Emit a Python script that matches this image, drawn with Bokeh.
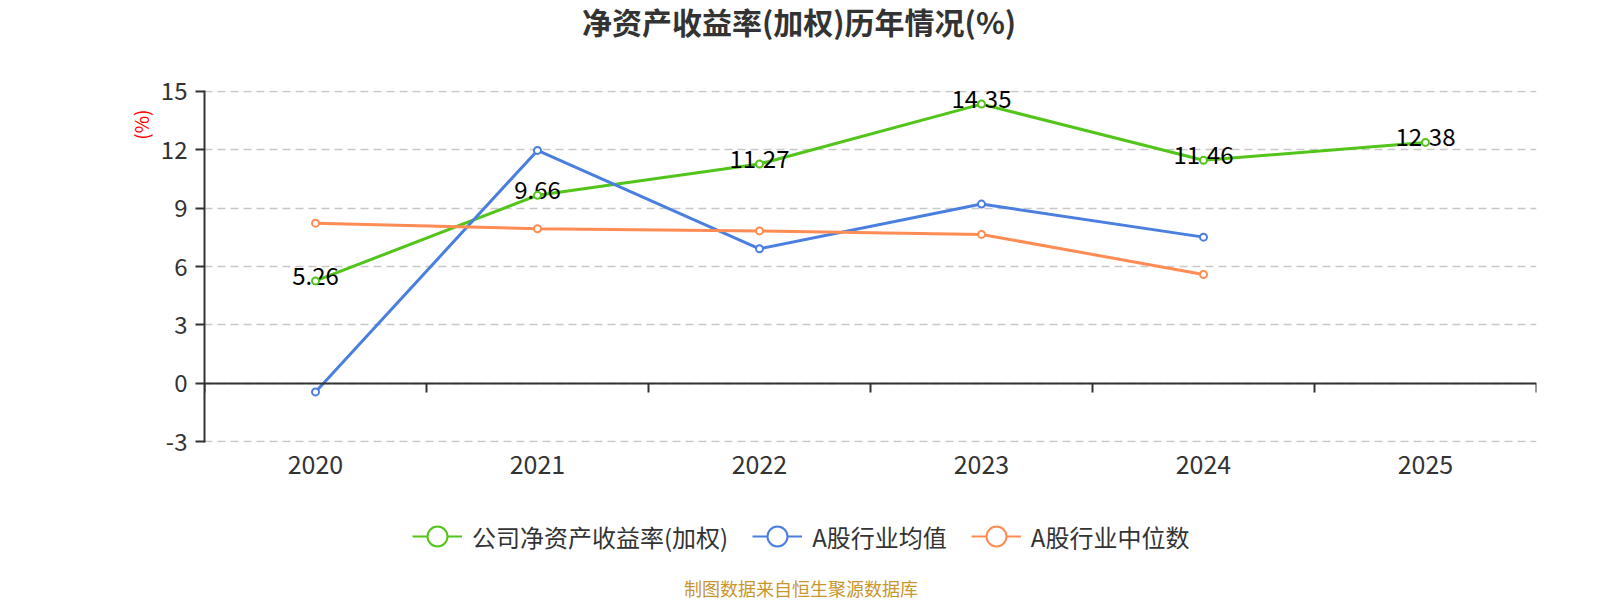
import math
from bokeh.plotting import figure
from bokeh.layouts import column
from bokeh.models import (FactorRange, Range1d, FixedTicker, LinearAxis, Label,
                          Legend, LegendItem, ColumnDataSource, Title)
from bokeh.embed import file_html
from bokeh.resources import INLINE
from bokeh.core.properties import value

# ---- data ----
years = ["2020", "2021", "2022", "2023", "2024", "2025"]
company_roe = [5.26, 9.66, 11.27, 14.35, 11.46, 12.38]
industry_mean = [-0.45, 11.97, 6.91, 9.21, 7.51, float("nan")]
industry_median = [8.23, 7.94, 7.83, 7.65, 5.59, float("nan")]
y_ticks = [-3, 0, 3, 6, 9, 12, 15]
series_names = ["公司净资产收益率(加权)", "A股行业均值", "A股行业中位数"]
series_colors = ["#52c41a", "#4a7fe0", "#ff8c55"]
title_text = "净资产收益率(加权)历年情况(%)"
unit_text = "(%)"
source_text = "制图数据来自恒生聚源数据库"

FONT = "Noto Sans CJK SC"
W = 1600
FRAME_LEFT = 204
PAD = 0.05  # tiny range padding so the edge grid lines are drawn


def blank_fig(h):
    f = figure(width=W, height=h, x_range=Range1d(0, 1), y_range=Range1d(0, 1),
               output_backend="svg", toolbar_location=None,
               x_axis_location=None, y_axis_location=None, min_border=0)
    f.outline_line_color = None
    f.grid.visible = False
    return f


# ---- top: title ----
ph = blank_fig(48)
ph.add_layout(Label(x=798.5 - FRAME_LEFT, y=28, x_units="screen", y_units="screen",
                    text=title_text, text_font=FONT, text_font_size="30px",
                    text_font_style="bold", text_color="#333333",
                    text_align="center", text_baseline="middle"))

# ---- main chart ----
p = figure(x_range=FactorRange(factors=years, range_padding=0),
           y_range=Range1d(y_ticks[0] - PAD, y_ticks[-1] + PAD),
           width=W, height=460, output_backend="svg", toolbar_location=None,
           min_border_left=FRAME_LEFT, min_border_right=64, min_border_top=42,
           min_border_bottom=66)
p.outline_line_color = None
p.xgrid.grid_line_color = None

p.yaxis.ticker = FixedTicker(ticks=y_ticks)
p.yaxis.major_label_overrides = {t: str(t) for t in y_ticks}
p.yaxis.axis_line_color = "#333333"
p.yaxis.axis_line_width = 2
p.yaxis.major_tick_line_color = "#333333"
p.yaxis.major_tick_line_width = 2
p.yaxis.major_tick_out = 9
p.yaxis.major_tick_in = 0
p.yaxis.minor_tick_line_color = None
p.yaxis.major_label_standoff = 8
p.yaxis.major_label_text_font = FONT
p.yaxis.major_label_text_font_size = "24px"
p.yaxis.major_label_text_color = "#333333"

p.ygrid.grid_line_color = "#c8c8c8"
p.ygrid.grid_line_width = 1.5
p.ygrid.grid_line_dash = "8 5"

xa = p.below[0]
xa.axis_line_color = None
xa.major_tick_line_color = None
xa.major_tick_out = 0
xa.major_tick_in = 0
xa.major_label_standoff = 12
xa.major_label_text_font = FONT
xa.major_label_text_font_size = "25px"
xa.major_label_text_color = "#333333"

# zero line with ticks at category boundaries (minor ticks only, no labels)
zero_axis = LinearAxis(ticker=FixedTicker(ticks=[], minor_ticks=list(range(len(years) + 1))),
                       fixed_location=0,
                       axis_line_color="#333333", axis_line_width=2,
                       major_tick_line_color=None,
                       minor_tick_line_color="#333333", minor_tick_line_width=2,
                       minor_tick_in=9, minor_tick_out=0)
p.add_layout(zero_axis, "above")

# unit label on the left side, near the top
p.add_layout(Title(text=unit_text, align="right", vertical_align="bottom",
                   offset=19, standoff=8, text_font=FONT,
                   text_font_size="19px", text_font_style="normal",
                   text_color="#ff0000"), "left")

series_vals = [company_roe, industry_mean, industry_median]
sources = [ColumnDataSource(dict(x=years, y=v)) for v in series_vals]

for src, c in zip(sources, series_colors):
    p.line("x", "y", source=src, line_color=c, line_width=3)

p.text(x=years, y=company_roe, text=[f"{v:.2f}" for v in company_roe],
       text_font=value(FONT), text_font_size="24px", text_color="#000000",
       text_align="center", text_baseline="middle", y_offset=-5)

for src, c in zip(sources, series_colors):
    p.scatter("x", "y", source=src, marker="circle", size=7,
              fill_color="white", line_color=c, line_width=2)

# ---- bottom: legend + source note ----
pb = blank_fig(92)
NAN = [float("nan")]
items = []
for n, c in zip(series_names, series_colors):
    lr = pb.line(x=NAN, y=NAN, line_color=c, line_width=2)
    mr = pb.scatter(x=NAN, y=NAN, marker="circle", fill_color="white",
                    line_color=c, line_width=2)
    items.append(LegendItem(label=n, renderers=[lr, mr]))
legend = Legend(items=items, orientation="horizontal",
                location=(412 - FRAME_LEFT, 39),
                glyph_width=50, glyph_height=50, label_standoff=10, spacing=24,
                padding=0, margin=0, border_line_color=None,
                background_fill_alpha=0,
                label_text_font=FONT, label_text_font_size="24px",
                label_text_color="#333333")
pb.add_layout(legend, "center")
pb.add_layout(Label(x=800.5 - FRAME_LEFT, y=13, x_units="screen", y_units="screen",
                    text=source_text, text_font=FONT, text_font_size="18px",
                    text_color="#c8962e",
                    text_align="center", text_baseline="middle"))

layout = column(ph, p, pb, spacing=0)
open("out.html", "w").write(file_html(layout, INLINE))
